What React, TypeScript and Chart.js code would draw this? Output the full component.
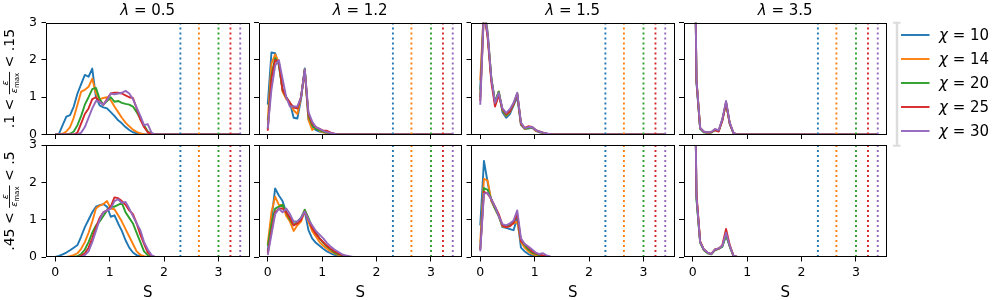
import React, { useEffect, useRef } from 'react';
import { Chart, registerables } from 'chart.js';

Chart.register(...registerables);

// ---------------- data ----------------
const S_BINS = [0, 0.068, 0.136, 0.204, 0.272, 0.34, 0.408, 0.476, 0.544, 0.612, 0.68, 0.748, 0.816, 0.884, 0.952, 1.02, 1.088, 1.156, 1.224, 1.292, 1.36, 1.428, 1.496, 1.564, 1.632, 1.7, 1.768, 1.836, 1.904, 1.972, 2.04];
const S_END = 3.4;
const CHI = [10, 14, 20, 25, 30];
const S_MAX = [2.3, 2.64, 3.0, 3.22, 3.4];
const LAMBDAS = ['0.5', '1.2', '1.5', '3.5'];
const ROW_LOW = ['.1', '.45'];
const ROW_HIGH = ['.15', '.5'];
const X_TICKS = [0, 1, 2, 3];
const Y_TICKS = [0, 1, 2, 3];
const COLORS = ['#1f77b4', '#ff7f0e', '#2ca02c', '#d62728', '#9467bd'];

// row .1 < e/emax < .15
const LO_L05 = [
  [0, 0.02, 0.25, 0.48, 0.52, 0.75, 1.1, 1.35, 1.6, 1.55, 1.77, 1.0, 0.78, 0.73, 0.7, 0.6, 0.5, 0.38, 0.3, 0.2, 0.12, 0.06, 0.03, 0.02, 0.01, 0],
  [0, 0, 0.02, 0.08, 0.2, 0.45, 0.8, 1.15, 1.2, 1.28, 1.5, 1.1, 0.95, 0.98, 1.0, 0.92, 0.75, 0.6, 0.45, 0.32, 0.22, 0.13, 0.07, 0.03, 0.01, 0],
  [0, 0, 0, 0, 0.02, 0.08, 0.25, 0.5, 0.8, 1.0, 1.22, 1.25, 0.95, 0.8, 0.9, 1.0, 0.88, 0.9, 0.85, 0.82, 0.8, 0.75, 0.6, 0.42, 0.25, 0.08, 0.02, 0],
  [0, 0, 0, 0, 0, 0, 0.05, 0.3, 0.55, 0.7, 0.95, 1.0, 0.88, 0.8, 0.95, 1.1, 1.12, 1.12, 1.1, 1.05, 1.0, 0.98, 0.7, 0.4, 0.2, 0.06, 0.02, 0],
  [0, 0, 0, 0, 0, 0, 0, 0.05, 0.2, 0.45, 0.7, 0.9, 0.88, 0.8, 0.92, 1.1, 1.08, 1.1, 1.12, 1.17, 1.1, 0.95, 0.72, 0.5, 0.25, 0.28, 0.05, 0],
];
const LO_L12 = [
  [0.8, 2.2, 2.18, 1.85, 1.2, 1.0, 0.85, 0.45, 0.43, 0.95, 1.77, 0.4, 0.2, 0.12, 0.08, 0.06, 0.04, 0.02, 0.01, 0],
  [0.38, 1.9, 2.15, 1.95, 1.15, 0.95, 0.85, 0.65, 0.55, 1.0, 1.75, 0.4, 0.12, 0.2, 0.1, 0.06, 0.04, 0.02, 0.01, 0],
  [0.16, 1.6, 2.05, 1.9, 1.2, 1.0, 0.8, 0.75, 0.7, 1.0, 1.75, 0.5, 0.25, 0.15, 0.12, 0.08, 0.05, 0.03, 0.01, 0],
  [0.1, 1.5, 2.0, 1.95, 1.2, 1.0, 0.85, 0.72, 0.7, 1.0, 1.72, 0.55, 0.3, 0.2, 0.15, 0.1, 0.1, 0.05, 0.02, 0],
  [0.16, 1.2, 1.85, 2.0, 1.5, 1.0, 0.75, 0.75, 0.75, 1.0, 1.75, 0.6, 0.35, 0.2, 0.15, 0.1, 0.06, 0.04, 0.02, 0],
];
const LO_L15 = [
  [1.2, 3.5, 2.75, 1.5, 0.85, 1.15, 0.6, 0.45, 0.55, 0.78, 1.0, 0.25, 0.15, 0.16, 0.18, 0.1, 0.06, 0.04, 0.02, 0.01, 0],
  [1.45, 3.4, 2.7, 1.5, 0.85, 1.15, 0.65, 0.5, 0.6, 0.8, 1.08, 0.28, 0.15, 0.17, 0.2, 0.1, 0.07, 0.04, 0.02, 0.01, 0],
  [1.0, 3.35, 2.65, 1.5, 0.88, 1.15, 0.65, 0.52, 0.62, 0.8, 1.1, 0.3, 0.16, 0.18, 0.2, 0.12, 0.07, 0.04, 0.02, 0.01, 0],
  [0.9, 3.3, 2.6, 1.4, 0.75, 1.05, 0.68, 0.55, 0.62, 0.82, 1.1, 0.3, 0.18, 0.22, 0.2, 0.12, 0.08, 0.05, 0.02, 0.01, 0],
  [0.8, 3.3, 2.7, 1.5, 0.85, 1.12, 0.7, 0.58, 0.68, 0.85, 1.12, 0.32, 0.17, 0.2, 0.2, 0.12, 0.08, 0.05, 0.03, 0.01, 0],
];
const LO_L35 = [
  [10, 1.4, 0.16, 0.06, 0.05, 0.06, 0.12, 0.1, 0.38, 0.85, 0.28, 0.03, 0],
  [10, 1.5, 0.18, 0.07, 0.05, 0.06, 0.14, 0.1, 0.4, 0.82, 0.3, 0.04, 0],
  [10, 1.45, 0.15, 0.06, 0.05, 0.05, 0.12, 0.09, 0.4, 0.86, 0.3, 0.04, 0],
  [10, 1.45, 0.17, 0.07, 0.05, 0.06, 0.12, 0.08, 0.38, 0.86, 0.3, 0.04, 0],
  [10, 1.5, 0.18, 0.08, 0.06, 0.07, 0.15, 0.11, 0.42, 0.9, 0.32, 0.05, 0],
];
// row .45 < e/emax < .5
const HI_L05 = [
  [0, 0.03, 0.07, 0.12, 0.18, 0.25, 0.32, 0.55, 0.8, 1.0, 1.2, 1.35, 1.39, 1.42, 1.35, 1.08, 1.12, 0.9, 0.7, 0.45, 0.25, 0.12, 0.05, 0.02, 0],
  [0, 0, 0, 0, 0.02, 0.05, 0.1, 0.22, 0.4, 0.65, 0.95, 1.3, 1.38, 1.42, 1.5, 1.3, 1.28, 1.12, 0.95, 0.75, 0.55, 0.35, 0.15, 0.06, 0.02, 0],
  [0, 0, 0, 0, 0, 0, 0.02, 0.08, 0.2, 0.4, 0.65, 0.85, 0.95, 1.1, 1.25, 1.35, 1.35, 1.4, 1.45, 1.2, 1.05, 0.9, 0.65, 0.4, 0.15, 0.05, 0.01, 0],
  [0, 0, 0, 0, 0, 0, 0, 0.03, 0.1, 0.25, 0.5, 0.8, 1.05, 1.2, 1.25, 1.35, 1.6, 1.58, 1.5, 1.4, 1.25, 1.15, 0.9, 0.6, 0.35, 0.12, 0.03, 0],
  [0, 0, 0, 0, 0, 0, 0, 0, 0.05, 0.15, 0.4, 0.7, 1.0, 1.2, 1.25, 1.3, 1.5, 1.55, 1.45, 1.48, 1.3, 1.1, 0.9, 0.72, 0.4, 0.2, 0.05, 0],
];
const HI_L12 = [
  [0.15, 1.0, 1.84, 1.65, 1.5, 1.2, 1.05, 0.95, 0.95, 1.05, 1.22, 0.72, 0.5, 0.38, 0.3, 0.22, 0.15, 0.1, 0.06, 0.04, 0.02, 0.01, 0],
  [0.35, 1.2, 1.62, 1.4, 1.4, 1.1, 0.95, 0.7, 0.85, 0.95, 1.25, 0.95, 0.7, 0.55, 0.4, 0.3, 0.22, 0.15, 0.1, 0.06, 0.04, 0.02, 0],
  [0.3, 0.9, 1.3, 1.35, 1.4, 1.2, 1.0, 0.85, 0.95, 1.05, 1.27, 1.05, 0.8, 0.65, 0.5, 0.38, 0.28, 0.2, 0.12, 0.08, 0.05, 0.02, 0],
  [0.1, 0.7, 1.2, 1.3, 1.3, 1.2, 1.05, 0.85, 0.9, 1.0, 1.22, 1.0, 0.78, 0.62, 0.5, 0.4, 0.3, 0.22, 0.15, 0.1, 0.06, 0.03, 0.01, 0],
  [0.05, 0.6, 1.15, 1.3, 1.2, 1.3, 1.15, 0.95, 0.95, 1.05, 1.22, 1.0, 0.85, 0.7, 0.6, 0.5, 0.38, 0.28, 0.2, 0.14, 0.08, 0.04, 0.02, 0],
];
const HI_L15 = [
  [0.85, 2.58, 2.0, 1.5, 1.3, 1.1, 0.8, 0.78, 0.75, 0.72, 1.05, 0.25, 0.15, 0.08, 0.04, 0.02, 0.01, 0],
  [0.4, 2.1, 2.05, 1.5, 1.3, 1.1, 0.82, 0.8, 0.85, 0.9, 0.95, 0.4, 0.25, 0.15, 0.08, 0.05, 0.03, 0.02, 0.01, 0],
  [0.2, 1.85, 1.8, 1.55, 1.3, 1.1, 0.85, 0.82, 0.88, 0.95, 1.1, 0.45, 0.32, 0.2, 0.12, 0.08, 0.05, 0.03, 0.01, 0],
  [0.2, 1.75, 1.7, 1.55, 1.35, 1.15, 0.85, 0.8, 0.82, 0.92, 1.15, 0.42, 0.35, 0.25, 0.15, 0.1, 0.07, 0.04, 0.02, 0],
  [0.15, 1.7, 1.72, 1.55, 1.35, 1.1, 0.88, 0.85, 0.9, 0.98, 1.25, 0.5, 0.35, 0.28, 0.2, 0.12, 0.08, 0.1, 0.04, 0.01, 0],
];
const HI_L35 = [
  [10, 1.6, 0.4, 0.2, 0.12, 0.08, 0.2, 0.22, 0.28, 0.58, 0.28, 0.03, 0],
  [10, 1.65, 0.42, 0.2, 0.12, 0.08, 0.2, 0.23, 0.3, 0.62, 0.3, 0.03, 0],
  [10, 1.55, 0.38, 0.18, 0.1, 0.07, 0.18, 0.22, 0.28, 0.6, 0.28, 0.03, 0],
  [10, 1.7, 0.42, 0.2, 0.12, 0.08, 0.2, 0.22, 0.32, 0.75, 0.32, 0.04, 0],
  [10, 1.65, 0.4, 0.2, 0.12, 0.08, 0.2, 0.23, 0.3, 0.65, 0.3, 0.04, 0],
];
const PANELS = [
  [LO_L05, LO_L12, LO_L15, LO_L35],
  [HI_L05, HI_L12, HI_L15, HI_L35],
];

// ---------------- layout ----------------
const FIG_W = 1000;
const FIG_H = 300;
const COL_LEFT = [46, 258.5, 471, 683.5];
const PANEL_W = 203.5;
const ROW_TOP = [22.7, 145.2];
const PANEL_H = 111.8;
const X_MIN = -0.17;
const X_MAX = 3.57;
const Y_MIN = 0;
const Y_MAX = 3;
const YAX_W = 40;
const XAX_H = 40;
const FAMILY = '"DejaVu Sans"';

function drawPieces(ctx: CanvasRenderingContext2D, pieces: { t: string; f: string }[], x: number, y: number, center: boolean) {
  const widths = pieces.map((p) => {
    ctx.font = p.f;
    return ctx.measureText(p.t).width;
  });
  const total = widths.reduce((a, b) => a + b, 0);
  let cx = center ? x - total / 2 : x;
  ctx.textAlign = 'left';
  ctx.textBaseline = 'alphabetic';
  pieces.forEach((p, i) => {
    ctx.font = p.f;
    ctx.fillText(p.t, cx, y);
    cx += widths[i];
  });
}

function drawRowLabel(ctx: CanvasRenderingContext2D, row: number, baseX: number, cy: number) {
  const F = `14px ${FAMILY}`;
  const FI = `italic 9.5px ${FAMILY}`;
  const FS = `7px ${FAMILY}`;
  const left = `${ROW_LOW[row]} < `;
  const right = ` < ${ROW_HIGH[row]}`;
  ctx.save();
  ctx.translate(baseX, cy);
  ctx.rotate(-Math.PI / 2);
  ctx.fillStyle = '#000';
  ctx.textBaseline = 'alphabetic';
  ctx.textAlign = 'left';
  ctx.font = F;
  const wl = ctx.measureText(left).width;
  const wr = ctx.measureText(right).width;
  ctx.font = FI;
  const wEps = ctx.measureText('ε').width;
  ctx.font = FS;
  const wMax = ctx.measureText('max').width;
  const wFrac = wEps + wMax + 2;
  const total = wl + wFrac + wr;
  let u = -total / 2;
  ctx.font = F;
  ctx.fillText(left, u, 0);
  u += wl;
  const axis = -4.5;
  ctx.fillRect(u, axis - 0.45, wFrac, 0.9);
  ctx.font = FI;
  ctx.textAlign = 'center';
  ctx.fillText('ε', u + wFrac / 2, axis - 2);
  ctx.textAlign = 'left';
  ctx.fillText('ε', u + 1, axis + 7);
  ctx.font = FS;
  ctx.fillText('max', u + 1 + wEps, axis + 9);
  u += wFrac;
  ctx.font = F;
  ctx.fillText(right, u, 0);
  ctx.restore();
}

function makeConfig(row: number, col: number): any {
  const series = PANELS[row][col];
  const datasets: any[] = [];
  series.forEach((vals, k) => {
    const pts = vals.map((v, i) => ({ x: S_BINS[i], y: v }));
    pts.push({ x: S_END, y: 0 });
    datasets.push({
      label: `χ = ${CHI[k]}`,
      data: pts,
      borderColor: COLORS[k],
      backgroundColor: COLORS[k],
      borderWidth: 1.9,
      pointRadius: 0,
      fill: false,
      tension: 0,
      borderJoinStyle: 'round',
      borderCapStyle: 'butt',
      order: 20 - k,
    });
  });
  S_MAX.forEach((s, k) => {
    datasets.push({
      label: `S max χ = ${CHI[k]}`,
      data: [{ x: s, y: Y_MIN }, { x: s, y: Y_MAX }],
      borderColor: COLORS[k],
      borderWidth: 1.9,
      borderDash: [1.9, 3.1],
      borderCapStyle: 'butt',
      pointRadius: 0,
      fill: false,
      order: 10 - k,
    });
  });

  const left = COL_LEFT[col];
  const top = ROW_TOP[row];
  const tickFont = { family: 'DejaVu Sans', size: 12.5 };
  const grid = { drawOnChartArea: false, drawTicks: true, tickLength: 4.5, color: '#000', lineWidth: 1 };

  const decor = {
    id: 'decor' + row + col,
    afterDatasetsDraw(chart: any) {
      const { ctx, chartArea: a } = chart;
      ctx.save();
      ctx.strokeStyle = '#000';
      ctx.lineWidth = 1;
      const l = Math.round(a.left) + 0.5;
      const t = Math.round(a.top) + 0.5;
      const r = Math.round(a.right) - 0.5;
      const b = Math.round(a.bottom) - 0.5;
      ctx.strokeRect(l, t, r - l, b - t);
      ctx.restore();
    },
    afterDraw(chart: any) {
      const { ctx, chartArea: a } = chart;
      const cx = (a.left + a.right) / 2;
      ctx.save();
      ctx.fillStyle = '#000';
      if (row === 0) {
        drawPieces(ctx, [
          { t: 'λ', f: `italic 15px ${FAMILY}` },
          { t: ` = ${LAMBDAS[col]}`, f: `15px ${FAMILY}` },
        ], cx, 14.5, true);
      }
      if (row === 1) {
        ctx.font = `15px ${FAMILY}`;
        ctx.textAlign = 'center';
        ctx.textBaseline = 'alphabetic';
        ctx.fillText('S', cx, 296.5);
      }
      if (col === 0) {
        drawRowLabel(ctx, row, 14, (a.top + a.bottom) / 2);
      }
      if (row === 0 && col === 3) {
        // legend frame edge
        ctx.strokeStyle = '#dcdcdc';
        ctx.lineWidth = 2.5;
        ctx.beginPath();
        ctx.moveTo(897, 22.7);
        ctx.lineTo(897, 145.7);
        ctx.stroke();
        ctx.lineWidth = 2;
        ctx.beginPath();
        ctx.moveTo(893, 22.7);
        ctx.lineTo(900.5, 22.7);
        ctx.moveTo(893, 145.7);
        ctx.lineTo(900.5, 145.7);
        ctx.stroke();
        // legend entries
        CHI.forEach((chi, k) => {
          const y = 35 + 24 * k;
          ctx.strokeStyle = COLORS[k];
          ctx.lineWidth = 1.9;
          ctx.beginPath();
          ctx.moveTo(901, y);
          ctx.lineTo(929.5, y);
          ctx.stroke();
          ctx.fillStyle = '#000';
          drawPieces(ctx, [
            { t: 'χ', f: `italic 15px ${FAMILY}` },
            { t: ` = ${chi}`, f: `15px ${FAMILY}` },
          ], 939, y + 5.3, false);
        });
      }
      ctx.restore();
    },
  };

  return {
    type: 'line',
    data: { datasets },
    plugins: [decor],
    options: {
      animation: false,
      responsive: false,
      maintainAspectRatio: false,
      events: [],
      layout: {
        autoPadding: false,
        padding: {
          left: left - YAX_W,
          top: top,
          right: FIG_W - left - PANEL_W,
          bottom: FIG_H - top - PANEL_H - XAX_H,
        },
      },
      plugins: {
        legend: { display: false },
        tooltip: { enabled: false },
        title: { display: false },
      },
      scales: {
        x: {
          type: 'linear',
          min: X_MIN,
          max: X_MAX,
          afterBuildTicks: (s: any) => {
            s.ticks = X_TICKS.map((v) => ({ value: v }));
          },
          afterFit: (s: any) => {
            s.height = XAX_H;
          },
          grid,
          border: { display: false },
          ticks: {
            display: row === 1,
            padding: 3.5,
            font: tickFont,
            color: '#000',
            maxRotation: 0,
            autoSkip: false,
            callback: (v: any) => String(v),
          },
        },
        y: {
          type: 'linear',
          min: Y_MIN,
          max: Y_MAX,
          afterBuildTicks: (s: any) => {
            s.ticks = Y_TICKS.map((v) => ({ value: v }));
          },
          afterFit: (s: any) => {
            s.width = YAX_W;
          },
          grid,
          border: { display: false },
          ticks: {
            display: col === 0,
            padding: 4.5,
            font: tickFont,
            color: '#000',
            autoSkip: false,
            callback: (v: any) => String(v),
          },
        },
      },
    },
  };
}

export default function App() {
  const refs = useRef<(HTMLCanvasElement | null)[]>([]);
  useEffect(() => {
    document.body.style.margin = '0';
    const charts: Chart[] = [];
    for (let r = 0; r < 2; r++) {
      for (let c = 0; c < 4; c++) {
        const cv = refs.current[r * 4 + c];
        if (cv) charts.push(new Chart(cv, makeConfig(r, c)));
      }
    }
    return () => charts.forEach((ch) => ch.destroy());
  }, []);
  return (
    <div style={{ position: 'absolute', left: 0, top: 0, width: FIG_W, height: FIG_H, background: '#fff' }}>
      {Array.from({ length: 8 }).map((_, i) => (
        <canvas
          key={i}
          ref={(el) => {
            refs.current[i] = el;
          }}
          width={FIG_W}
          height={FIG_H}
          style={{ position: 'absolute', left: 0, top: 0, width: FIG_W, height: FIG_H }}
        />
      ))}
    </div>
  );
}
